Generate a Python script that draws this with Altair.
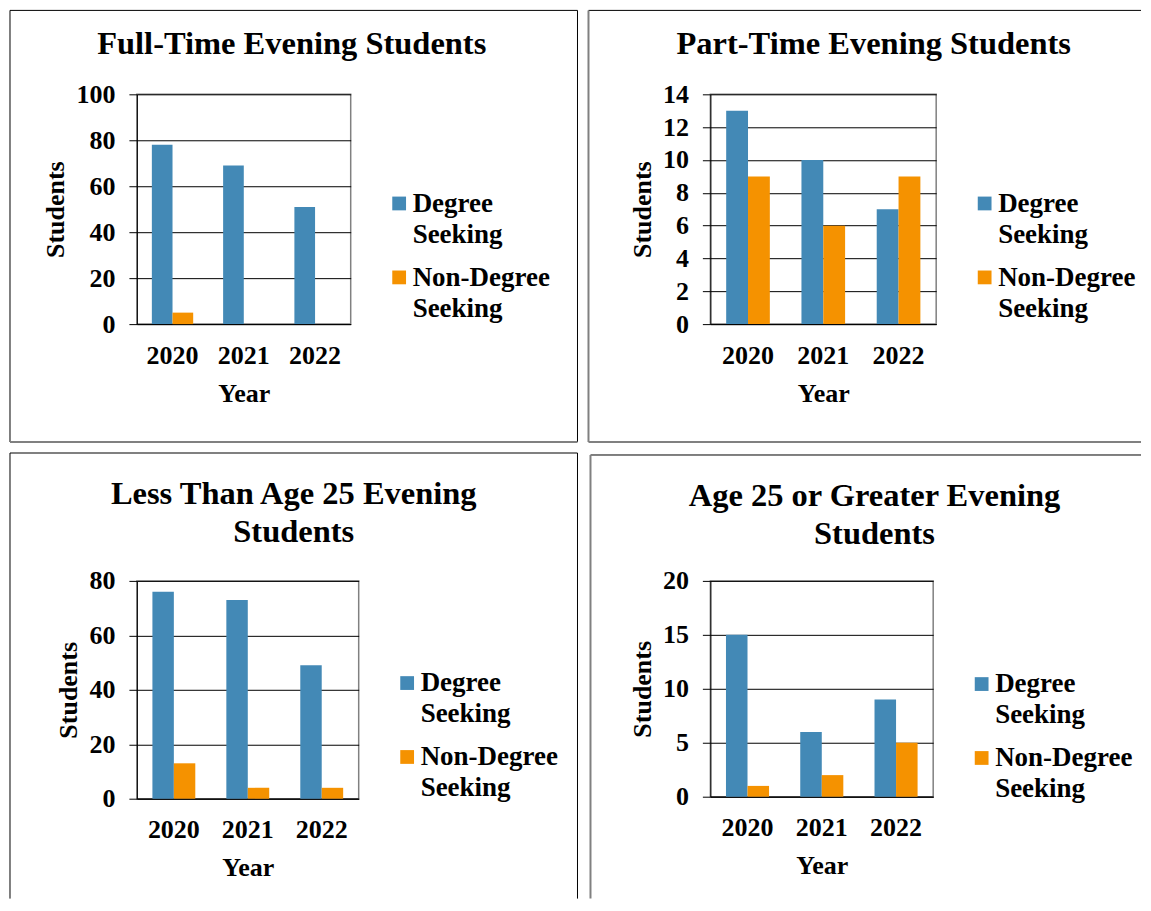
import altair as alt
import pandas as pd

years = ["2020", "2021", "2022"]
series = ["Degree Seeking", "Non-Degree Seeking"]

ft_degree = [78, 69, 51]
ft_non = [5, 0, 0]
pt_degree = [13, 10, 7]
pt_non = [9, 6, 9]
u25_degree = [76, 73, 49]
u25_non = [13, 4, 4]
o25_degree = [15, 6, 9]
o25_non = [1, 2, 5]

ft_ticks = [0, 20, 40, 60, 80, 100]
pt_ticks = [0, 2, 4, 6, 8, 10, 12, 14]
u25_ticks = [0, 20, 40, 60, 80]
o25_ticks = [0, 5, 10, 15, 20]

FONT = "Liberation Serif"
BLUE = "#4389B6"
ORANGE = "#F59200"
BLACK = "#000000"
GREY = "#808080"

one = pd.DataFrame({"k": [0]})


def rule(x, x2, y, y2, color, width, opacity=1.0):
    return alt.Chart(one).mark_rule(
        color=color, strokeWidth=width, opacity=opacity
    ).encode(
        x=alt.value(x), x2=alt.value(x2), y=alt.value(y), y2=alt.value(y2)
    )


def panel(title, degree, non, ticks, w, h, legend_y, box, sides, title_offset, title_dx):
    df = pd.DataFrame({
        "Year": years * 2,
        "Series": [series[0]] * 3 + [series[1]] * 3,
        "Students": degree + non,
    })
    bars = alt.Chart(df).mark_bar().encode(
        x=alt.X("Year:N", title="Year", sort=years,
                scale=alt.Scale(paddingInner=0.42, paddingOuter=0.21),
                axis=alt.Axis(labelAngle=0, ticks=False, tickSize=0,
                              labelPadding=18, titlePadding=12, grid=False)),
        xOffset=alt.XOffset("Series:N", sort=series),
        y=alt.Y("Students:Q", title="Students",
                scale=alt.Scale(domain=[0, ticks[-1]], nice=False),
                axis=alt.Axis(values=ticks, tickSize=8, labelPadding=14,
                              titlePadding=7, grid=True, format="d")),
        color=alt.Color("Series:N", sort=series,
                        scale=alt.Scale(domain=series, range=[BLUE, ORANGE]),
                        legend=alt.Legend(
                            title=None, orient="none",
                            legendX=w + 35, legendY=legend_y,
                            labelExpr="split(datum.label, ' ')",
                            labelBaseline="top",
                            symbolType="M-1,0.85H1V2.85H-1Z",
                            symbolSize=190, symbolStrokeWidth=0,
                            labelOffset=0, rowPadding=3, padding=0)),
    )
    left, right, top, bottom = box
    st = sides
    layers = [bars,
              rule(left, right, top, top, *st[0]),
              rule(left, left, top, bottom, *st[1]),
              rule(right, right, top, bottom, *st[2]),
              rule(left, right, bottom, bottom, *st[3])]
    return alt.layer(*layers).properties(
        width=w, height=h,
        title=alt.TitleParams(text=title, font=FONT, fontSize=32.5,
                              fontWeight="bold", color=BLACK,
                              anchor="middle", frame="bounds",
                              offset=title_offset, dx=title_dx,
                              lineHeight=38),
    )


black1 = (BLACK, 1)
grey2 = (GREY, 2)
hidden = (GREY, 1, 0.0)

p1 = panel("Full-Time Evening Students", ft_degree, ft_non, ft_ticks,
           214, 230, 83, (-127, 441, -84, 348),
           [black1, black1, black1, grey2], -51, -2)
p2 = panel("Part-Time Evening Students", pt_degree, pt_non, pt_ticks,
           226, 230, 83, (-122, 431, -84, 348),
           [black1, grey2, hidden, grey2], -51, 9)
p3 = panel(["Less Than Age 25 Evening", "Students"], u25_degree, u25_non, u25_ticks,
           222, 218, 76, (-127, 441, -128, 318),
           [black1, black1, black1, hidden], -96.5, 0)
p4 = panel(["Age 25 or Greater Evening", "Students"], o25_degree, o25_non, o25_ticks,
           223, 216, 77, (-120, 431, -126, 318),
           [black1, grey2, hidden, hidden], -96.5, 9)

chart = alt.concat(
    p1, p2, p3, p4, columns=2, bounds="flush", align="each",
    spacing=alt.RowColnumber(row=257, column=352),
).resolve_scale(
    color="independent", xOffset="independent"
).properties(padding=0).configure(
    style={"guide-label": {"lineHeight": 31}},
    background="white",
    padding=0,
).configure_view(
    stroke=GREY, strokeWidth=1.5
).configure_axis(
    labelFont=FONT, labelFontSize=26, labelFontWeight="bold", labelColor=BLACK,
    titleFont=FONT, titleFontSize=26, titleFontWeight="bold", titleColor=BLACK,
    domainColor=BLACK, domainWidth=1, tickColor=BLACK, tickWidth=1,
    gridColor=BLACK, gridOpacity=1, gridWidth=1,
).configure_legend(
    labelFont=FONT, labelFontSize=27, labelFontWeight="bold", labelColor=BLACK,
    labelLimit=300,
)

chart.save("out.html", embed_options={"renderer": "svg", "actions": False})
